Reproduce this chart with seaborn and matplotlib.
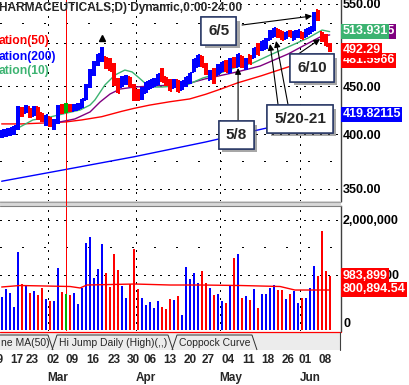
import numpy as np
import matplotlib
matplotlib.use("Agg")
import matplotlib.pyplot as plt
import seaborn as sns
from matplotlib import transforms as mtrans
from matplotlib.patches import Rectangle, Polygon
from matplotlib.lines import Line2D
from matplotlib.ticker import FixedLocator, FixedFormatter, NullLocator
import matplotlib.patheffects as pe

# ---------------- data ----------------
bar_idx = list(range(83))
bar_color = ("BBBBBRBRBR" "RBRBBRGRBB" "BBBBBBRRRR" "BBRRRBBBBB" "RRRBRBBBBB"
             "RRBRBBRBRB" "RBRBRBBBBR" "RBRBBRBBBR" "RRR")
high = [404.2, 405.2, 406.2, 408.2, 428.6, 427.5, 429.6, 426.5, 428.6, 427.5,
        421.3, 419.3, 417.2, 415.2, 429.6, 430.7, 431.7, 430.7, 430.7, 431.7,
        436.0, 452.2, 469.1, 478.4, 486.6, 495.0, 483.0, 481.9, 476.0, 458.9,
        461.1, 462.2, 460.0, 452.2, 446.7, 448.9, 454.4, 456.6, 458.9, 463.4,
        470.2, 460.0, 457.8, 457.8, 456.6, 455.5, 460.0, 464.5, 480.7, 485.4,
        484.2, 476.0, 467.9, 470.2, 474.9, 477.2, 479.5, 481.9, 483.0, 486.6,
        484.2, 481.9, 485.4, 493.7, 499.8, 502.2, 506.0, 515.9, 518.5, 517.2,
        514.7, 513.4, 515.9, 514.7, 515.9, 513.4, 517.2, 519.8, 539.1, 541.8,
        513.4, 510.9, 499.8]
low = [396.4, 397.4, 398.3, 399.3, 404.2, 417.2, 421.3, 416.2, 418.3, 414.2,
       412.2, 408.2, 407.2, 404.2, 410.2, 420.3, 421.3, 422.4, 423.4, 424.4,
       426.5, 434.9, 447.8, 461.1, 472.5, 477.2, 469.1, 466.8, 450.0, 442.4,
       448.9, 451.1, 448.9, 433.8, 433.8, 434.9, 442.4, 446.7, 448.9, 451.1,
       454.4, 450.0, 444.6, 447.8, 443.5, 445.6, 448.9, 452.2, 465.7, 471.4,
       471.4, 462.2, 456.6, 452.2, 462.2, 465.7, 465.7, 464.5, 470.2, 471.4,
       470.2, 467.9, 474.9, 481.9, 485.4, 490.2, 492.6, 503.5, 507.2, 506.0,
       503.5, 504.7, 507.2, 503.5, 506.0, 504.7, 507.2, 510.9, 514.7, 527.4,
       501.0, 496.2, 489.0]
open_ = [398, 399, 400, 401, 407, 425, 422, 426, 419, 426,
         420, 411, 416, 407, 412, 429, 423, 429, 424, 425,
         427, 436, 450, 463, 475, 480, 482, 480, 472, 456,
         450, 453, 459, 450, 444, 437, 444, 448, 450, 452,
         466, 459, 456, 449, 455, 447, 451, 454, 467, 473,
         483, 474, 458, 468, 463, 467, 477, 466, 481, 473,
         483, 470, 484, 483, 498, 492, 494, 505, 509, 516,
         513, 506, 514, 505, 508, 512, 508, 512, 516, 540,
         512, 506, 498]
close = [403, 404, 405, 407, 426, 419, 428, 418, 426, 416,
         414, 418, 409, 413, 428, 422, 429, 424, 429, 430,
         435, 450, 466, 476, 485, 492, 471, 468, 452, 444,
         459, 460, 450, 436, 436, 447, 453, 455, 457, 462,
         456, 452, 446, 456, 445, 454, 459, 463, 479, 484,
         473, 464, 466, 454, 473, 476, 467, 480, 472, 485,
         472, 480, 476, 492, 487, 501, 504, 514, 517, 508,
         505, 512, 509, 513, 515, 506, 516, 518, 537, 530,
         503, 498, 492.29]
volume = [605, 745, 678, 418, 1418, 836, 812, 678, 709, 636,
          764, 564, 533, 533, 1127, 697, 655, 636, 678, 473,
          769, 1588, 1697, 951, 1115, 1569, 1042, 787, 1387, 1096,
          805, 587, 842, 1473, 745, 587, 455, 515, 405, 533,
          424, 387, 564, 545, 618, 278, 1151, 933, 1042, 860,
          1073, 860, 769, 636, 655, 533, 496, 800, 1315, 1387,
          587, 624, 551, 751, 405, 660, 660, 764, 824, 733,
          733, 569, 655, 709, 496, 587, 582, 769, 1169, 987,
          1805, 1073, 983.899]  # thousands of shares

ma10_k = [0, 4.6, 7.8, 12.1, 16.3, 19.6, 22.1, 23.3, 25.8, 28.3, 30.8, 32.6, 34.1,
          35.8, 37.6, 40.1, 43.3, 46.3, 50.3, 54.6, 58.8, 62.8, 67.1, 71.6, 76.6,
          80.1, 82]
ma10_v = [397.4, 407.2, 414.2, 417.2, 421.3, 424.4, 429.6, 434.9, 451.1, 462.2,
          467.9, 465.7, 460.0, 453.3, 448.9, 448.9, 450.0, 451.1, 458.9, 464.5,
          471.4, 476.0, 485.4, 495.0, 506.0, 515.9, 513.931]
ma20_k = [14.6, 18.3, 22.1, 24.6, 27.1, 29.6, 33.3, 37.6, 43.3, 47.1, 50.8, 58.8,
          64.6, 71.6, 75.8, 80.1, 82]
ma20_v = [412.2, 415.2, 422.4, 432.8, 441.3, 446.7, 448.9, 450.0, 451.1, 453.3,
          457.8, 465.7, 472.5, 486.6, 497.4, 508.5, 509.7455]
ma50_k = [0, 5, 11, 16, 20, 25, 30, 33, 37, 42, 47, 51, 55, 59, 65, 68, 72, 76, 79, 82]
ma50_v = [410.2, 410.2, 411.2, 412.2, 414.2, 417.5, 423.0, 426.0, 429.5, 433.0,
          436.0, 441.0, 447.0, 453.5, 461.5, 466.0, 472.0, 477.5, 479.5, 481.5966]
ma200_k = [0, 16, 33, 51, 65, 82]
ma200_v = [356.6, 367.0, 378.5, 392.5, 405.0, 419.82115]
vma_k = [0, 4.6, 17.1, 19.6, 21.3, 27.1, 33.3, 42.1, 49.6, 59.6, 69.6, 73.3, 82]
vma_v = [782, 809, 791, 764, 818, 827, 836, 818, 818, 809, 791, 727, 727]

hijump_k = [25]
hijump_p = [506.0]
event_k = 16.21

date_labels = ["09", "17", "23", "02", "09", "16", "23", "30", "06", "13", "20",
               "27", "04", "11", "18", "26", "01", "08"]
date_pos = [-1.2, 3.8, 7.7, 12.8, 17.6, 22.8, 28.1, 32.8, 37.1, 42.1, 47.1,
            51.6, 56.6, 61.6, 66.6, 71.6, 75.8, 80.8]
month_labels = ["Mar", "Apr", "May", "Jun"]
month_bound = [11.5, 33.5, 54.5, 74.5]

# ---------------- style ----------------
sns.set_style("white")
plt.rcParams['font.family'] = ['Liberation Sans', 'DejaVu Sans']

W, H = 410, 385
fig = plt.figure(figsize=(W / 100, H / 100), dpi=100)
fig.patch.set_facecolor('white')


def fbox(x0, y0, x1, y1):
    return [x0 / W, 1 - y1 / H, (x1 - x0) / W, (y1 - y0) / H]


def fx(x):
    return x / W


def fy(y):
    return 1 - y / H


ax = fig.add_axes(fbox(0, 0, 341, 201))
axv = fig.add_axes(fbox(0, 206, 341, 331))

cmap = {'B': '#0000ff', 'R': '#ff0000', 'G': '#00b400'}
cols = [cmap[c] for c in bar_color]
k = np.array(bar_idx, dtype=float)

XL = (-0.42, 84.83)
for a in (ax, axv):
    a.set_xlim(*XL)
    for s in ('top', 'left', 'bottom'):
        a.spines[s].set_visible(False)
    a.spines['right'].set_color('#404040')
    a.spines['right'].set_linewidth(1.0)
    a.set_facecolor('white')
    a.set_xticks([])

# ---------------- price panel ----------------
ax.set_yscale('log')
ax.set_ylim(339.8, 555.2)

dense = (0, (1, 6))
sparse = (0, (1, 20))
gkw = dict(color='black', lw=0.75, zorder=1, antialiased=False)
for lv in [350, 400, 450, 500, 550]:
    ax.axhline(lv, ls=dense, **gkw)
for lv in [375, 525]:
    ax.axhline(lv, ls=sparse, **gkw)
for mb in month_bound:
    ax.axvline(mb, ls=dense, **gkw)
    axv.axvline(mb, ls=dense, **gkw)

sns.lineplot(x=ma200_k, y=ma200_v, ax=ax, color='#0000ff', lw=1.0, sort=False, estimator=None, zorder=2)
sns.lineplot(x=ma50_k, y=ma50_v, ax=ax, color='#ff0000', lw=1.0, sort=False, estimator=None, zorder=2)
sns.lineplot(x=ma20_k, y=ma20_v, ax=ax, color='#800080', lw=1.0, sort=False, estimator=None, zorder=2)
sns.lineplot(x=ma10_k, y=ma10_v, ax=ax, color='#3cb371', lw=1.0, sort=False, estimator=None, zorder=2)

# event marker line (1 px wide, crisp)
for a in (ax, axv):
    a.axvspan(event_k - 0.12, event_k + 0.13, color='#ff0000', lw=0, zorder=2.5,
              antialiased=False)

bkw = dict(colors=cols, lw=1.5, zorder=3, antialiased=False)
ax.vlines(k, low, high, **bkw)
ax.hlines(open_, k - 0.5, k, **bkw)
ax.hlines(close, k, k + 0.5, **bkw)
ax.plot(hijump_k, hijump_p, marker='^', color='black', ms=4, ls='none', zorder=3)

ax.yaxis.tick_right()
ax.yaxis.set_major_locator(FixedLocator([350, 400, 450, 550]))
ax.yaxis.set_major_formatter(FixedFormatter(["350.00", "400.00", "450.00", "550.00"]))
ax.yaxis.set_minor_locator(NullLocator())
ax.tick_params(axis='y', length=0, pad=1.5, labelsize=9, colors='black')
for t in ax.get_yticklabels():
    t.set_fontweight('bold')

trp = mtrans.blended_transform_factory(ax.transAxes, ax.transData)


def vlabel(a, tr, y, s, fc, z):
    a.text(1.004, y, s, transform=tr, ha='left', va='center', fontsize=9,
           fontweight='bold', color='white', clip_on=False, zorder=z,
           bbox=dict(boxstyle='square,pad=0.12', fc=fc, ec='none'))


vlabel(ax, trp, 514.6, "509.7455", '#800080', 20)
vlabel(ax, trp, 514.6, "513.931", '#3cb371', 21)
vlabel(ax, trp, 479.5, "481.5966", '#ff0000', 22)
vlabel(ax, trp, 491.0, "492.29", '#ff0000', 23)
vlabel(ax, trp, 419.82, "419.82115", '#0000ff', 24)

# annotations
arrows = [((60.1, 522.3), (77.6, 533.9)),
          ((73.8, 485.4), (79.6, 504.7)),
          ((59.1, 412.1), (59.1, 470.2)),
          ((69.1, 429.6), (67.1, 498.6)),
          ((71.6, 429.6), (68.6, 502.3))]
for (s, t) in arrows:
    ax.annotate('', xy=t, xytext=s,
                arrowprops=dict(arrowstyle='-|>', color='black', lw=0.8,
                                mutation_scale=9, shrinkA=0, shrinkB=0),
                zorder=8, annotation_clip=False)

boxes = [(54.3, 514.7, "6/5"), (77.6, 470.2, "6/10"),
         (58.6, 399.2, "5/8"), (74.6, 415.2, "5/20-21")]
for (bx, by, s) in boxes:
    t = ax.text(bx, by, s, ha='center', va='center', fontsize=11, fontweight='bold',
                zorder=10, bbox=dict(boxstyle='square,pad=0.45', fc='white',
                                     ec='#2b3a67', lw=1.1))
    t.get_bbox_patch().set_path_effects(
        [pe.withSimplePatchShadow(offset=(2.5, -2.5), shadow_rgbFace='#606060', alpha=0.55),
         pe.Normal()])

# ---------------- volume panel ----------------
vol = np.array(volume) * 1000
axv.set_ylim(-0.0182e6, 2.2545e6)
for lv in [1e6, 2e6]:
    axv.axhline(lv, ls=dense, **gkw)
axv.axhline(1.5e6, ls=sparse, **gkw)
axv.bar(k, vol, width=0.5, color=cols, linewidth=0, zorder=3, antialiased=False)
sns.lineplot(x=vma_k, y=np.array(vma_v) * 1000, ax=axv, color='#ff0000', lw=1.0,
             sort=False, estimator=None, zorder=4)
axv.yaxis.tick_right()
axv.yaxis.set_major_locator(FixedLocator([0, 1e6, 2e6]))
axv.yaxis.set_major_formatter(FixedFormatter(["0", "1,000,000", "2,000,000"]))
axv.tick_params(axis='y', length=0, pad=1.5, labelsize=9, colors='black')
for t in axv.get_yticklabels():
    t.set_fontweight('bold')
axv.get_yticklabels()[0].set_va('bottom')
trv = mtrans.blended_transform_factory(axv.transAxes, axv.transData)
vlabel(axv, trv, 0.984e6, "983,899", '#ff0000', 20)
vlabel(axv, trv, 0.745e6, "800,894.54", '#ff0000', 21)
axv.set_ylabel('')
ax.set_ylabel('')

# ---------------- frame pieces ----------------
fig.patches.append(Rectangle((fx(0), fy(206)), fx(341), (206 - 201) / H,
                             transform=fig.transFigure, fc='#d8d8d8', ec='none', zorder=0))
fig.lines.append(Line2D([fx(0), fx(341)], [fy(201.5), fy(201.5)], transform=fig.transFigure,
                        color='#a0a0a0', lw=0.8))
fig.lines.append(Line2D([fx(0), fx(341)], [fy(205.5), fy(205.5)], transform=fig.transFigure,
                        color='#808080', lw=0.8))
ex0 = 1.67 + 4 * (event_k - 0.12)
fig.patches.append(Rectangle((fx(ex0), fy(206)), 1 / W, 5 / H, transform=fig.transFigure,
                             fc='#ff0000', ec='none', antialiased=False, zorder=3))
fig.lines.append(Line2D([fx(0), fx(341)], [fy(331.5), fy(331.5)], transform=fig.transFigure,
                        color='#ff0000', lw=0.9))

# tab row
fig.patches.append(Rectangle((fx(0), fy(350)), fx(341), 17 / H, transform=fig.transFigure,
                             fc='#ececec', ec='none', zorder=0))
tabs = [((-20, 350), (-15, 335), (48, 335), (53, 350)),
        ((52, 350), (57, 335), (168, 335), (173, 350)),
        ((172, 350), (177, 335), (252, 335), (257, 350))]
for tb in tabs:
    fig.patches.append(Polygon([(fx(x), fy(y)) for x, y in tb], closed=False,
                               transform=fig.transFigure, fc='none', ec='#303030', lw=0.7))
fig.lines.append(Line2D([fx(340.5), fx(340.5)], [fy(332), fy(350)], transform=fig.transFigure,
                        color='#404040', lw=0.8))
fig.text(fx(1), fy(343), "ne MA(50)", fontsize=7.5, ha='left', va='center')
fig.text(fx(113), fy(343), "Hi Jump Daily (High)(,,)", fontsize=7.5, ha='center', va='center')
fig.text(fx(215), fy(343), "Coppock Curve", fontsize=7.5, ha='center', va='center')

# date labels
trd = mtrans.blended_transform_factory(axv.transData, fig.transFigure)
for p, s in zip(date_pos, date_labels):
    axv.text(p, fy(360), s, transform=trd, ha='center', va='center', fontsize=8.5,
             fontweight='bold', clip_on=False)
for p, s in zip(month_bound, month_labels):
    axv.text(p, fy(378), s, transform=trd, ha='left', va='center', fontsize=8.5,
             fontweight='bold', clip_on=False)

# title and legend fragments
fig.text(fx(-1), fy(8), "HARMACEUTICALS,D) Dynamic,0:00-24:00", fontsize=8.6,
         fontweight='bold', ha='left', va='center')
fig.text(fx(-1), fy(41), "ation(50)", fontsize=8.7, fontweight='bold', color='#ff0000',
         ha='left', va='center')
fig.text(fx(-1), fy(57), "ation(200)", fontsize=8.7, fontweight='bold', color='#0000ff',
         ha='left', va='center')
fig.text(fx(-1), fy(71), "ation(10)", fontsize=8.7, fontweight='bold', color='#3cb371',
         ha='left', va='center')

fig.savefig("out.png", dpi=100)
